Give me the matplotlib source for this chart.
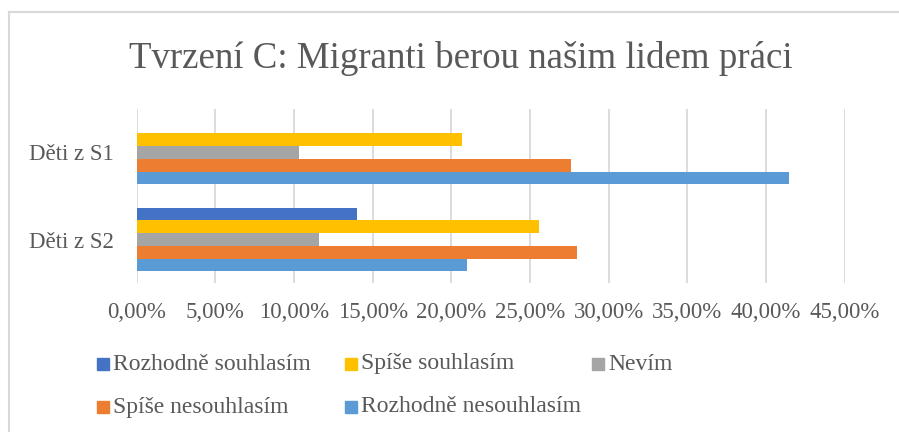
import matplotlib.pyplot as plt
from matplotlib.lines import Line2D
from matplotlib.patches import Rectangle
import numpy as np

# data
categories = ['Děti z S2', 'Děti z S1']
series_names = ['Rozhodně souhlasím', 'Spíše souhlasím', 'Nevím',
                'Spíše nesouhlasím', 'Rozhodně nesouhlasím']
rozhodne_souhlasim = [14.0, 0.0]
spise_souhlasim = [25.6, 20.7]
nevim = [11.6, 10.3]
spise_nesouhlasim = [28.0, 27.6]
rozhodne_nesouhlasim = [21.0, 41.45]
tick_values = [0, 5, 10, 15, 20, 25, 30, 35, 40, 45]
tick_labels = ['0,00%', '5,00%', '10,00%', '15,00%', '20,00%',
               '25,00%', '30,00%', '35,00%', '40,00%', '45,00%']

values = [rozhodne_souhlasim, spise_souhlasim, nevim,
          spise_nesouhlasim, rozhodne_nesouhlasim]
colors = ['#4472C4', '#FFC000', '#A5A5A5', '#ED7D31', '#5B9BD5']
text_color = '#595959'
grid_color = '#D9D9D9'

plt.rcParams['font.family'] = ['Liberation Serif', 'DejaVu Serif']

W, H = 899, 432
fig = plt.figure(figsize=(W / 100, H / 100), dpi=100)
ax = fig.add_axes([136.7 / W, 1 - 283 / H, 708 / W, 174 / H])

# grouped horizontal bars, first series on top of each group
y = np.arange(len(categories))
h = 0.146
for i, (vals, col) in enumerate(zip(values, colors)):
    ax.barh(y + (2 - i) * h, vals, height=h, color=col, zorder=2)

ax.set_xlim(0, 45)
ax.set_ylim(-0.5, 1.5)
ax.set_xticks(tick_values)
ax.set_xticklabels(tick_labels)
ax.set_yticks(y)
ax.set_yticklabels(categories)
ax.tick_params(axis='x', length=0, pad=14, labelsize=16.5, labelcolor=text_color)
ax.tick_params(axis='y', length=0, pad=16.5, labelsize=16.5, labelcolor=text_color)
ax.grid(axis='x', color=grid_color, linewidth=1.3, zorder=0)
for s in ax.spines.values():
    s.set_visible(False)

# title
fig.text(460.5 / W, 1 - 68 / H, 'Tvrzení C: Migranti berou našim lidem práci',
         ha='center', va='baseline', fontsize=26.6, color=text_color)

# legend laid out like the source (row-major, fixed columns)
legend_pos = [(97, 364), (345, 364), (592, 364), (97, 407), (345, 407)]
for name, col, (lx, ly) in zip(series_names, colors, legend_pos):
    fig.patches.append(Rectangle((lx / W, 1 - (ly + 6) / H), 12 / W, 12 / H,
                                 transform=fig.transFigure, color=col))
    fig.text((lx + 16) / W, 1 - ly / H, name, ha='left', va='center',
             fontsize=17, color=text_color)

# chart frame (only top and left edges are visible in the crop)
fig.add_artist(Line2D([9 / W, 9 / W], [0, 1 - 12 / H], color=grid_color,
                      linewidth=1.5, transform=fig.transFigure))
fig.add_artist(Line2D([9 / W, 1], [1 - 12 / H, 1 - 12 / H], color=grid_color,
                      linewidth=1.5, transform=fig.transFigure))

fig.savefig('out.png', dpi=100)
